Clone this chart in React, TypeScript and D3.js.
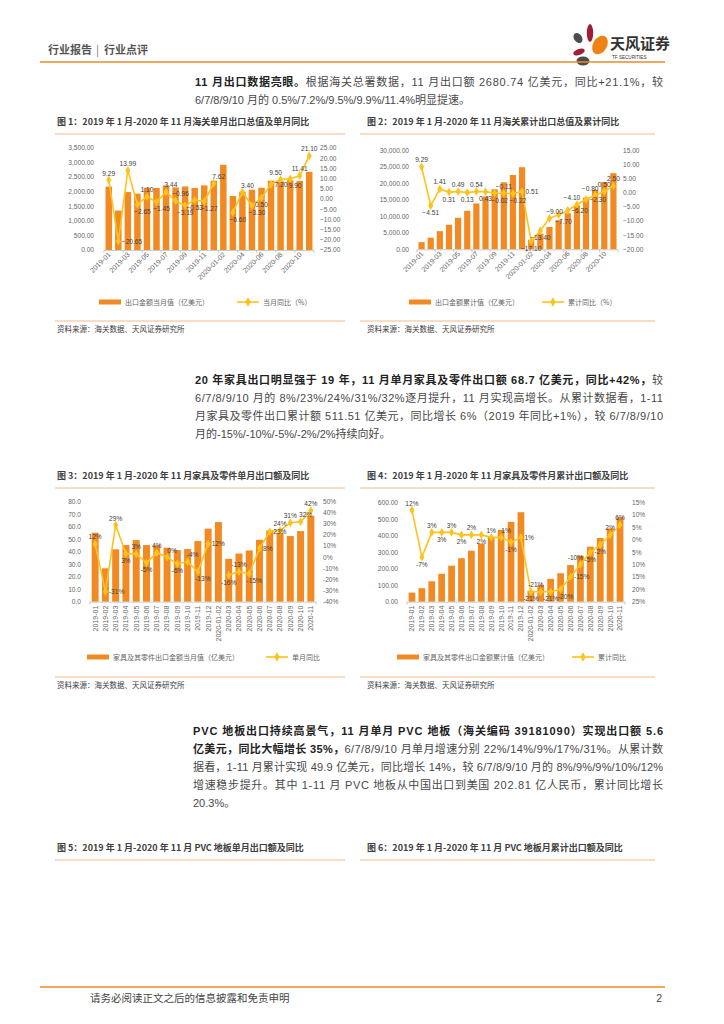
import React from 'react';
import * as d3 from 'd3';

// ---------------- DATA ----------------
const categories = [
  '2019-01','2019-02','2019-03','2019-04','2019-05','2019-06','2019-07','2019-08','2019-09','2019-10','2019-11','2019-12',
  '2020-01-02','2020-03','2020-04','2020-05','2020-06','2020-07','2020-08','2020-09','2020-10','2020-11'
];

// Chart 1: single-month export value (亿美元) & YoY (%)
const exportMonthly = [2175,1353,1987,1934,2138,2128,2215,2148,2181,2129,2217,2375,2924,1852,2001,2068,2135,2377,2353,2393,2371,2681];
const exportMonthlyYoy: (number|null)[] = [9.29,-20.65,13.99,-2.65,1.10,-1.45,3.44,-0.96,-3.19,-0.53,-1.27,7.62,null,-6.60,3.40,-3.30,0.50,7.20,9.50,9.90,11.41,21.10];
const exportMonthlyLabelPos = ['t','r','t','br','t','br','tr','tr','b','b','br','tr','','br','tr','br','b','r','tl','br','t','t'];

// Chart 2: cumulative export value & cumulative YoY
const exportCum = [2175,3528,5515,7449,9587,11715,13930,16078,18259,20388,22605,24984,2924,4775,6776,8844,10979,13356,15709,18102,20473,23154];
const exportCumYoy: (number|null)[] = [9.29,-4.51,1.41,0.31,0.49,0.13,0.54,0.43,-0.02,-0.11,-0.22,0.51,-17.10,-13.40,-9.00,-7.70,-6.20,-4.10,-2.30,-0.80,0.50,2.50];
const exportCumLabelPos = ['t','b','t','b','t','b','t','b','br','t','br','r','b','b','tr','br','r','tl','r','tl','t','t'];

// Chart 3: furniture single month (亿美元) & YoY (%)
const furnMonthly = [55.2,26.7,41.9,45.3,49.3,45.3,45.1,43.2,41.3,42.1,48.5,58.4,63.7,34.3,38.5,41.0,49.5,57.0,55.0,52.5,56.5,68.7];
const furnMonthlyYoy: (number|null)[] = [12,-31,29,3,3,-5,4,0,-6,-4,-13,12,null,-16,-13,-15,8,23,24,31,32,42];
const furnMonthlyLabelPos = ['t','r','t','b','t','b','t','tr','b','tr','br','r','','b','t','br','r','r','t','t','tr','t'];

// Chart 4: furniture cumulative (亿美元) & cumulative YoY (%)
const furnCum = [55.2,81.9,123.8,169.1,218.4,263.7,308.8,352.0,393.3,435.4,483.9,542.3,66.7,101.0,138.5,172.5,222.0,279.0,333.5,386.0,444.5,511.51];
const furnCumYoy: (number|null)[] = [12,-7,3,3,3,2,2,2,1,1,-1,1,-21,-21,-21,-20,-15,-10,-5,-2,2,6];
const furnCumLabelPos = ['t','b','t','b','t','b','t','b','t','tr','b','r','b','tl','b','br','r','tl','b','b','t','t'];

const leftTicks1 = [0,500,1000,1500,2000,2500,3000,3500];
const rightTicks1 = [-25,-20,-15,-10,-5,0,5,10,15,20,25];
const leftTicks2 = [0,5000,10000,15000,20000,25000,30000];
const rightTicks2 = [-20,-15,-10,-5,0,5,10,15];
const leftTicks3 = [0,10,20,30,40,50,60,70,80];
const rightTicks3 = [-40,-30,-20,-10,0,10,20,30,40,50];
const leftTicks4 = [0,100,200,300,400,500,600];
const rightTicks4 = [-25,-20,-15,-10,-5,0,5,10,15];

// ---------------- STYLE ----------------
const FONT = '"Liberation Sans", "Noto Sans CJK SC", Arial, sans-serif';
const CJK = '"Noto Sans CJK SC", "Liberation Sans", sans-serif';
const ORANGE = '#F0892A';
const BAR = '#F28A24';
const LINE = '#FFC21A';
const LIGHT_ORANGE = '#F6B98A';
const AXIS_TXT = '#666666';
const TXT = '#404040';

type ComboProps = {
  x0: number; x1: number; yTop: number; yBot: number;
  bars: number[]; line: (number|null)[]; labelPos: string[];
  leftTicks: number[]; leftFmt: (v: number) => string; leftX: number;
  rightTicks: number[]; rightFmt: (v: number) => string; rightX: number;
  valFmt: (v: number) => string;
  xMode: 'diag' | 'vert';
  legendY: number; barLegX: number; barLegText: string; lineLegX: number; lineLegText: string;
};

function Combo(p: ComboProps) {
  const x = d3.scaleBand<string>().domain(categories).range([p.x0, p.x1]).padding(0);
  const yL = d3.scaleLinear().domain([p.leftTicks[0], p.leftTicks[p.leftTicks.length - 1]]).range([p.yBot, p.yTop]);
  const yR = d3.scaleLinear().domain([p.rightTicks[0], p.rightTicks[p.rightTicks.length - 1]]).range([p.yBot, p.yTop]);
  const bw = x.bandwidth() * 0.68;
  const cx = (c: string) => (x(c) as number) + x.bandwidth() / 2;
  const pts = categories.map((c, i) => ({ c, v: p.line[i] }));
  const lineGen = d3.line<{ c: string; v: number | null }>()
    .defined(d => d.v !== null)
    .x(d => cx(d.c))
    .y(d => yR(d.v as number));
  const diamond = d3.symbol(d3.symbolDiamond, 22)();
  const legDiamond = d3.symbol(d3.symbolDiamond, 26)();
  return (
    <g fontFamily={FONT}>
      {p.leftTicks.map(t => (
        <text key={'l' + t} x={p.leftX} y={yL(t) + 2.3} fontSize={6.6} fill={AXIS_TXT} textAnchor="end">{p.leftFmt(t)}</text>
      ))}
      {p.rightTicks.map(t => (
        <text key={'r' + t} x={p.rightX} y={yR(t) + 2.3} fontSize={6.6} fill={AXIS_TXT}>{p.rightFmt(t)}</text>
      ))}
      {categories.map((c, i) => (
        <rect key={'b' + c} x={cx(c) - bw / 2} y={yL(p.bars[i])} width={bw} height={p.yBot - yL(p.bars[i])} fill={BAR} />
      ))}
      <line x1={p.x0} x2={p.x1} y1={p.yBot + 0.5} y2={p.yBot + 0.5} stroke="#BFBFBF" strokeWidth={0.8} />
      {p.xMode === 'diag'
        ? categories.map((c, i) => i % 2 === 0 ? (
            <g key={'t' + c}>
              <line x1={x(c) as number} x2={x(c) as number} y1={p.yBot} y2={p.yBot + 3} stroke="#BFBFBF" strokeWidth={0.8} />
              <text transform={`translate(${cx(c) + 2.5},${p.yBot + 5}) rotate(-45)`} fontSize={7} fill={AXIS_TXT} textAnchor="end">{c}</text>
            </g>
          ) : null)
        : categories.map(c => (
            <text key={'t' + c} transform={`translate(${cx(c) + 2.4},${p.yBot + 4}) rotate(-90)`} fontSize={7} fill={AXIS_TXT} textAnchor="end">{c}</text>
          ))}
      <line x1={p.x1} x2={p.x1} y1={p.yBot} y2={p.yBot + 3} stroke="#BFBFBF" strokeWidth={0.8} />
      {p.xMode === 'vert' && (
        <line x1={p.x0} x2={p.x0} y1={p.yBot} y2={p.yBot + 3} stroke="#BFBFBF" strokeWidth={0.8} />
      )}
      <path d={lineGen(pts) || ''} fill="none" stroke={LINE} strokeWidth={1.6} />
      {pts.map(d => d.v === null ? null : (
        <path key={'m' + d.c} d={diamond || ''} transform={`translate(${cx(d.c)},${yR(d.v)})`} fill={LINE} />
      ))}
      {pts.map((d, i) => {
        if (d.v === null) return null;
        const pos = p.labelPos[i];
        const px = cx(d.c), py = yR(d.v);
        let tx = px, ty = py - 4.5;
        let anchor: 'middle' | 'start' | 'end' = 'middle';
        if (pos[0] === 'b') ty = py + 9.5;
        if (pos.endsWith('r') && pos.length === 2) tx = px + 5;
        if (pos.endsWith('l') && pos.length === 2) tx = px - 5;
        if (pos === 'r') { tx = px + 3.5; ty = py + 2.4; anchor = 'start'; }
        if (pos === 'l') { tx = px - 3.5; ty = py + 2.4; anchor = 'end'; }
        return <text key={'v' + d.c} x={tx} y={ty} fontSize={6.6} fill={TXT} textAnchor={anchor}>{p.valFmt(d.v)}</text>;
      })}
      <g fontFamily={CJK}>
        <rect x={p.barLegX} y={p.legendY - 2.5} width={22} height={5} fill={BAR} />
        <text x={p.barLegX + 26} y={p.legendY + 2.5} fontSize={7} fill={AXIS_TXT}>{p.barLegText}</text>
        <line x1={p.lineLegX} x2={p.lineLegX + 22} y1={p.legendY} y2={p.legendY} stroke={LINE} strokeWidth={1.6} />
        <path d={legDiamond || ''} transform={`translate(${p.lineLegX + 11},${p.legendY})`} fill={LINE} />
        <text x={p.lineLegX + 26} y={p.legendY + 2.5} fontSize={7} fill={AXIS_TXT}>{p.lineLegText}</text>
      </g>
    </g>
  );
}

const fmt2 = d3.format(',.2f');
const fmt1 = d3.format('.1f');
const pct = (v: number) => `${Math.round(v)}%`;
const pctAbs = (v: number) => `${Math.abs(Math.round(v))}%`;

function Title({ x, y, x0, x1, text }: { x: number; y: number; x0: number; x1: number; text: string }) {
  return (
    <g>
      <text x={x} y={y} fontSize={9} fontWeight="bold" fill={TXT} fontFamily={CJK}>{text}</text>
      <line x1={x0} x2={x1} y1={y + 9} y2={y + 9} stroke={LIGHT_ORANGE} strokeWidth={1} />
    </g>
  );
}

function Source({ x, y, x0, x1 }: { x: number; y: number; x0: number; x1: number }) {
  return (
    <g>
      <line x1={x0} x2={x1} y1={y - 9} y2={y - 9} stroke={LIGHT_ORANGE} strokeWidth={1} />
      <text x={x} y={y + 2} fontSize={7.5} fill={TXT} fontFamily={CJK}>资料来源：海关数据、天风证券研究所</text>
    </g>
  );
}

type Seg = { t: string; b?: boolean };
function Para({ x, y, w, lines }: { x: number; y: number; w: number; lines: { segs: Seg[]; full: boolean }[] }) {
  return (
    <g fontFamily={FONT} fontSize={11} fill="#333333">
      {lines.map((ln, i) => (
        <text key={i} x={x} y={y + i * 18} textLength={ln.full ? w : undefined} lengthAdjust="spacing">
          {ln.segs.map((s, j) => (
            <tspan key={j} fontWeight={s.b ? 'bold' : 'normal'} fill={s.b ? '#222222' : '#484848'}>{s.t}</tspan>
          ))}
        </text>
      ))}
    </g>
  );
}

export default function App() {
  return (
    <svg width={724} height={1024} style={{ position: 'absolute', left: 0, top: 0, background: '#ffffff' }}>
      <rect width={724} height={1024} fill="#ffffff" />
      {/* header */}
      <text x={48} y={54} fontSize={11} fontWeight="bold" fill="#555555" fontFamily={CJK}>行业报告</text>
      <text x={96} y={54} fontSize={11} fill="#777777" fontFamily={CJK}>|</text>
      <text x={104} y={54} fontSize={11} fontWeight="bold" fill="#555555" fontFamily={CJK}>行业点评</text>
      <g>
        <ellipse cx={578} cy={38} rx={4} ry={5.5} fill="#4D4D4D" transform="rotate(-35 578 38)" />
        <ellipse cx={590} cy={33} rx={3.2} ry={9} fill="#A01E35" />
        <ellipse cx={600} cy={45} rx={7} ry={10} fill="#EE8214" transform="rotate(30 600 45)" />
        <ellipse cx={579} cy={52} rx={6} ry={3} fill="#A01E35" transform="rotate(-20 579 52)" />
        <ellipse cx={583} cy={61} rx={6.5} ry={4.5} fill="#4D4D4D" />
      </g>
      <text x={610} y={49} fontSize={15} fontWeight="bold" fill="#333333" fontFamily={CJK}>天风证券</text>
      <text x={612} y={59} fontSize={4.6} fill="#333333" fontFamily={FONT}>TF SECURITIES</text>
      <line x1={40} x2={665} y1={62} y2={62} stroke={ORANGE} strokeWidth={1.5} />

      <Para x={195} y={86} w={468} lines={[
        { segs: [{ t: '11 月出口数据亮眼。', b: true }, { t: '根据海关总署数据，11 月出口额 2680.74 亿美元，同比+21.1%，较' }], full: true },
        { segs: [{ t: '6/7/8/9/10 月的 0.5%/7.2%/9.5%/9.9%/11.4%明显提速。' }], full: false },
      ]} />

      <Title x={57} y={125} x0={55} x1={345} text="图 1：2019 年 1 月-2020 年 11 月海关单月出口总值及单月同比" />
      <Title x={367} y={125} x0={360} x1={655} text="图 2：2019 年 1 月-2020 年 11 月海关累计出口总值及累计同比" />

      <Combo x0={104} x1={314} yTop={148} yBot={250} bars={exportMonthly} line={exportMonthlyYoy} labelPos={exportMonthlyLabelPos}
        leftTicks={leftTicks1} leftFmt={fmt2} leftX={94} rightTicks={rightTicks1} rightFmt={fmt2} rightX={320}
        valFmt={d3.format('.2f')} xMode="diag"
        legendY={302} barLegX={99} barLegText="出口金额当月值（亿美元）" lineLegX={237} lineLegText="当月同比（%）" />
      <Combo x0={417} x1={618} yTop={150.7} yBot={249.3} bars={exportCum} line={exportCumYoy} labelPos={exportCumLabelPos}
        leftTicks={leftTicks2} leftFmt={fmt2} leftX={409} rightTicks={rightTicks2} rightFmt={fmt2} rightX={623}
        valFmt={d3.format('.2f')} xMode="diag"
        legendY={302} barLegX={409} barLegText="出口金额累计值（亿美元）" lineLegX={542} lineLegText="累计同比（%）" />

      <Source x={57} y={330} x0={55} x1={345} />
      <Source x={367} y={330} x0={360} x1={655} />

      <Para x={195} y={384} w={468} lines={[
        { segs: [{ t: '20 年家具出口明显强于 19 年，11 月单月家具及零件出口额 68.7 亿美元，同比+42%，', b: true }, { t: '较' }], full: true },
        { segs: [{ t: '6/7/8/9/10 月的 8%/23%/24%/31%/32%逐月提升，11 月实现高增长。从累计数据看，1-11' }], full: true },
        { segs: [{ t: '月家具及零件出口累计额 511.51 亿美元，同比增长 6%（2019 年同比+1%），较 6/7/8/9/10' }], full: true },
        { segs: [{ t: '月的-15%/-10%/-5%/-2%/2%持续向好。' }], full: false },
      ]} />

      <Title x={57} y={479} x0={55} x1={345} text="图 3：2019 年 1 月-2020 年 11 月家具及零件单月出口额及同比" />
      <Title x={367} y={479} x0={360} x1={655} text="图 4：2019 年 1 月-2020 年 11 月家具及零件月累计出口额及同比" />

      <Combo x0={90} x1={316} yTop={501.7} yBot={601.7} bars={furnMonthly} line={furnMonthlyYoy} labelPos={furnMonthlyLabelPos}
        leftTicks={leftTicks3} leftFmt={fmt1} leftX={81} rightTicks={rightTicks3} rightFmt={pct} rightX={323}
        valFmt={pct} xMode="vert"
        legendY={657} barLegX={87} barLegText="家具及其零件出口金额当月值（亿美元）" lineLegX={266} lineLegText="单月同比" />
      <Combo x0={407} x1={625} yTop={502.7} yBot={601.7} bars={furnCum} line={furnCumYoy} labelPos={furnCumLabelPos}
        leftTicks={leftTicks4} leftFmt={fmt2} leftX={398} rightTicks={rightTicks4} rightFmt={pctAbs} rightX={632}
        valFmt={pct} xMode="vert"
        legendY={657} barLegX={397} barLegText="家具及其零件出口金额累计值（亿美元）" lineLegX={572} lineLegText="累计同比" />

      <Source x={57} y={686} x0={55} x1={345} />
      <Source x={367} y={686} x0={360} x1={655} />

      <Para x={193} y={735} w={470} lines={[
        { segs: [{ t: 'PVC 地板出口持续高景气，11 月单月 PVC 地板（海关编码 39181090）实现出口额 5.6', b: true }], full: true },
        { segs: [{ t: '亿美元，同比大幅增长 35%，', b: true }, { t: '6/7/8/9/10 月单月增速分别 22%/14%/9%/17%/31%。从累计数' }], full: true },
        { segs: [{ t: '据看，1-11 月累计实现 49.9 亿美元，同比增长 14%，较 6/7/8/9/10 月的 8%/9%/9%/10%/12%' }], full: true },
        { segs: [{ t: '增速稳步提升。其中 1-11 月 PVC 地板从中国出口到美国 202.81 亿人民币，累计同比增长' }], full: true },
        { segs: [{ t: '20.3%。' }], full: false },
      ]} />

      <Title x={57} y={851} x0={55} x1={345} text="图 5：2019 年 1 月-2020 年 11 月 PVC 地板单月出口额及同比" />
      <Title x={367} y={851} x0={360} x1={655} text="图 6：2019 年 1 月-2020 年 11 月 PVC 地板月累计出口额及同比" />

      <line x1={40} x2={665} y1={987} y2={987} stroke={ORANGE} strokeWidth={1.5} />
      <text x={90} y={1002} fontSize={10.5} fill="#444444" fontFamily={CJK}>请务必阅读正文之后的信息披露和免责申明</text>
      <text x={662} y={1002} fontSize={10.5} fill="#444444" fontFamily={FONT} textAnchor="end">2</text>
    </svg>
  );
}
